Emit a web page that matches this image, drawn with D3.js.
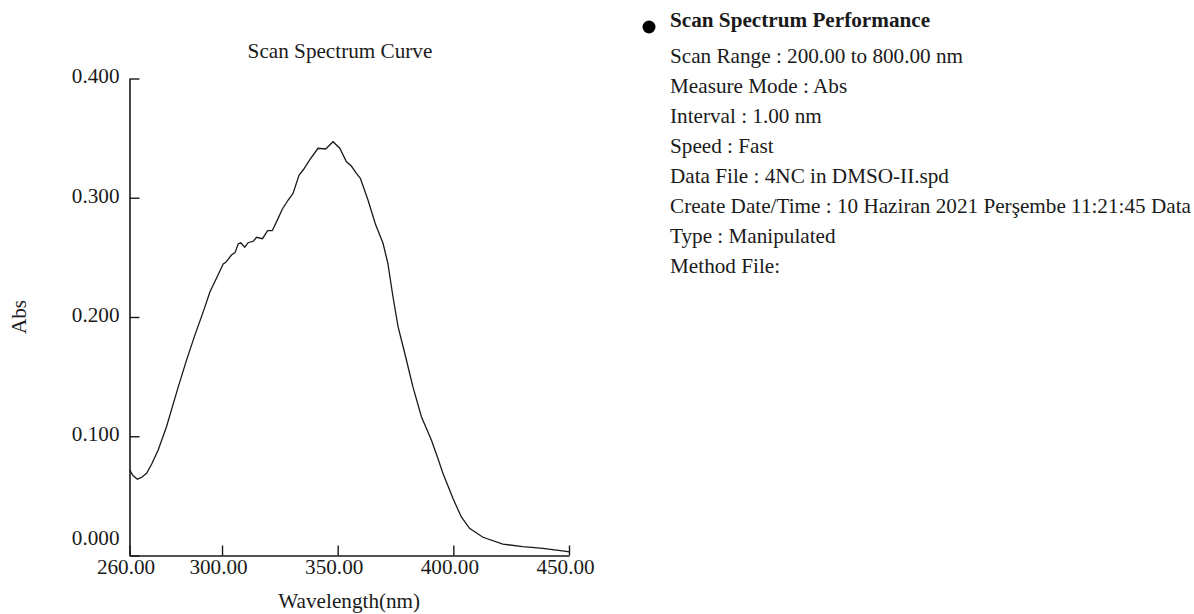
<!DOCTYPE html>
<html>
<head>
<meta charset="utf-8">
<script src="https://cdn.jsdelivr.net/npm/d3@7"></script>
<style>
  body { margin: 0; background: #fff; }
  svg { font-family: "Liberation Serif", "DejaVu Serif", serif; }
</style>
</head>
<body>
<div class="chart"></div>
<script>
// spectrum
const wavelength = [260, 261.5, 263.4, 265.3, 267.4, 269.6, 272.4, 276.0, 281.1, 284.7, 288.3, 291.9, 294.8, 297.6,
  300.5, 301.5, 304.1, 305.6, 307.0, 308.1, 309.8, 311.3, 313.5, 314.9, 317.5, 319.7, 321.7, 323.6, 326.1, 328.6,
  330.7, 333.3, 335.3, 337.9, 341.5, 344.8, 348.0, 350.9, 353.8, 355.9, 358.1, 359.8, 363.1, 366.3, 369.6, 371.7,
  373.9, 376.1, 379.0, 382.5, 386.2, 390.5, 393.3, 395.5, 399.8, 403.4, 407.0, 412.8, 421.4, 430.0, 438.7, 448.8, 450];
const absorbance = [0.072, 0.067, 0.064, 0.0656, 0.069, 0.0767, 0.0885, 0.108, 0.1416, 0.164, 0.185, 0.2045, 0.2212, 0.2325,
  0.2444, 0.2456, 0.252, 0.254, 0.2612, 0.2623, 0.2586, 0.2623, 0.2635, 0.2668, 0.2657, 0.2724, 0.2724, 0.280, 0.2906, 0.2981,
  0.3037, 0.3191, 0.3239, 0.3317, 0.3415, 0.3409, 0.347, 0.3415, 0.3302, 0.3266, 0.3205, 0.3163, 0.2981, 0.278, 0.2618, 0.245,
  0.217, 0.1919, 0.1696, 0.1416, 0.1164, 0.0969, 0.0815, 0.0689, 0.048, 0.0325, 0.0228, 0.0153, 0.0096, 0.0074, 0.006, 0.0035, 0.003];

const xTicks = [260, 300, 350, 400, 450];
const yTicks = [0, 0.1, 0.2, 0.3, 0.4];

const infoTitle = "Scan Spectrum Performance";
const infoLines = [
  "Scan Range : 200.00 to 800.00 nm",
  "Measure Mode : Abs",
  "Interval : 1.00 nm",
  "Speed : Fast",
  "Data File : 4NC in DMSO-II.spd",
  "Create Date/Time : 10 Haziran 2021 Perşembe 11:21:45 Data",
  "Type : Manipulated",
  "Method File:"
];

const W = 1194, H = 614;
const ink = "#1a1a1a";
const fs = 21.2;

const svg = d3.select(".chart").append("svg")
  .attr("width", W).attr("height", H)
  .attr("viewBox", [0, 0, W, H]);

const x = d3.scaleLinear().domain([260, 450]).range([129.5, 569]);
const y = d3.scaleLinear().domain([0, 0.4]).range([555.5, 78.5]);

// axes, ticks point inward
const gx = svg.append("g")
  .attr("transform", `translate(0,${y(0)})`)
  .call(d3.axisBottom(x).tickValues(xTicks).tickSizeInner(-10).tickSizeOuter(0).tickPadding(7).tickFormat(d3.format(".2f")));
const gy = svg.append("g")
  .attr("transform", `translate(${x(260)},0)`)
  .call(d3.axisLeft(y).tickValues(yTicks).tickSizeInner(-10).tickSizeOuter(0).tickPadding(10).tickFormat(d3.format(".3f")));

[gx, gy].forEach(g => {
  g.select(".domain").attr("stroke", ink).attr("stroke-width", 1.6);
  g.selectAll(".tick line").attr("stroke", ink).attr("stroke-width", 1.4);
  g.selectAll(".tick text").attr("fill", ink).style("font-size", fs + "px").style("font-family", "Liberation Serif");
});
gx.selectAll(".tick text").attr("dy", "0.55em").attr("dx", -4);
gy.selectAll(".tick text").attr("dy", "0.2em");
gy.selectAll(".tick text").filter(d => d === 0).attr("dy", "-0.5em");

// spectrum
const pts = wavelength.map((w, i) => [w, absorbance[i]]);
svg.append("path")
  .datum(pts)
  .attr("fill", "none")
  .attr("stroke", ink)
  .attr("stroke-width", 1.3)
  .attr("d", d3.line().x(d => x(d[0])).y(d => y(d[1])));

// titles
svg.append("text")
  .attr("x", 340).attr("y", 58)
  .attr("text-anchor", "middle")
  .attr("fill", ink).style("font-size", fs + "px")
  .text("Scan Spectrum Curve");

svg.append("text")
  .attr("x", (x(260) + x(450)) / 2).attr("y", 608)
  .attr("text-anchor", "middle")
  .attr("fill", ink).style("font-size", fs + "px")
  .text("Wavelength(nm)");

svg.append("text")
  .attr("transform", `translate(26,${(y(0) + y(0.4)) / 2}) rotate(-90)`)
  .attr("text-anchor", "middle")
  .attr("fill", ink).style("font-size", fs + "px")
  .text("Abs");

// info panel on the right
const info = svg.append("g").attr("transform", "translate(670,0)");
info.append("circle").attr("cx", -21).attr("cy", 27).attr("r", 6.5).attr("fill", "#000");
info.append("text")
  .attr("x", 0).attr("y", 27)
  .attr("fill", ink).style("font-size", fs + "px").style("font-weight", "bold")
  .text(infoTitle);
info.selectAll("text.line")
  .data(infoLines)
  .join("text")
  .attr("class", "line")
  .attr("x", 0)
  .attr("y", (d, i) => 63 + i * 30)
  .attr("fill", ink).style("font-size", fs + "px")
  .text(d => d);
</script>
</body>
</html>
